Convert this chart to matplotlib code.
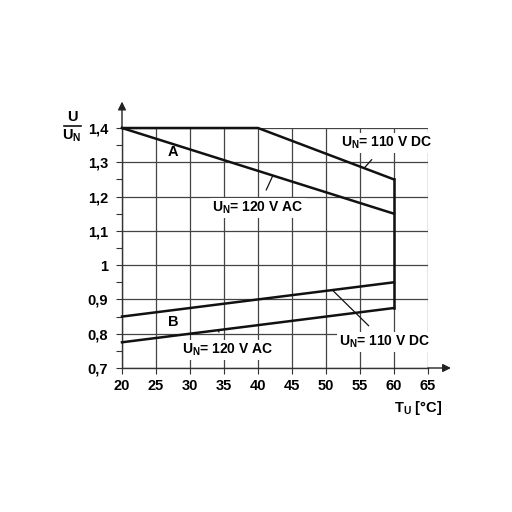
import matplotlib
matplotlib.use("Agg")
import matplotlib.pyplot as plt
import numpy as np

# curve data (T in °C, U/UN)
t_dc_upper = [20, 40, 60]
u_dc_upper = [1.4, 1.4, 1.25]
t_ac_upper = [20, 60]
u_ac_upper = [1.4, 1.15]
t_dc_lower = [20, 60]
u_dc_lower = [0.85, 0.95]
t_ac_lower = [20, 60]
u_ac_lower = [0.775, 0.875]
t_limit = [60, 60]
u_limit = [1.25, 0.875]

x_ticks = [20, 25, 30, 35, 40, 45, 50, 55, 60, 65]
y_ticks = [0.7, 0.8, 0.9, 1.0, 1.1, 1.2, 1.3, 1.4]
y_labels = ["0,7", "0,8", "0,9", "1", "1,1", "1,2", "1,3", "1,4"]

plt.rcParams['font.family'] = ['Liberation Sans', 'DejaVu Sans']
plt.rcParams['mathtext.fontset'] = 'custom'
plt.rcParams['mathtext.rm'] = 'Liberation Sans:bold'
plt.rcParams['mathtext.bf'] = 'Liberation Sans:bold'
plt.rcParams['mathtext.sf'] = 'Liberation Sans:bold'

fig = plt.figure(figsize=(5.12, 5.12), dpi=100)
ax = fig.add_axes([122/512, 1 - 368/512, 306/512, 240/512])

ax.set_xlim(20, 65)
ax.set_ylim(0.7, 1.4)
ax.set_xticks(x_ticks)
ax.set_xticklabels([str(v) for v in x_ticks], fontweight='bold', fontsize=10.5)
ax.set_yticks(y_ticks)
ax.set_yticklabels(y_labels, fontweight='bold', fontsize=10.5)
ax.set_yticks(np.arange(0.75, 1.4, 0.1), minor=True)
ax.tick_params(axis='both', which='both', length=4, width=0.8, color='#333333')
ax.tick_params(axis='x', pad=4)
ax.tick_params(axis='y', pad=6)
ax.grid(True, which='major', color='#444444', linewidth=0.9)
for s in ['top', 'right']:
    ax.spines[s].set_visible(False)
for s in ['left', 'bottom']:
    ax.spines[s].set_color('#333333')
    ax.spines[s].set_linewidth(1.0)

# axis arrows
ax.annotate('', xy=(0, 1.11), xytext=(0, 1.0), xycoords='axes fraction',
            arrowprops=dict(arrowstyle='-|>', color='#222222', lw=1.0,
                            mutation_scale=12, shrinkA=0, shrinkB=0),
            annotation_clip=False)
ax.annotate('', xy=(1.075, 0), xytext=(1.0, 0), xycoords='axes fraction',
            arrowprops=dict(arrowstyle='-|>', color='#222222', lw=1.0,
                            mutation_scale=12, shrinkA=0, shrinkB=0),
            annotation_clip=False)

lw = 1.8
ax.plot(t_dc_upper, u_dc_upper, color='#111111', lw=lw, clip_on=False, zorder=3)
ax.plot(t_ac_upper, u_ac_upper, color='#111111', lw=lw, clip_on=False, zorder=3)
ax.plot(t_dc_lower, u_dc_lower, color='#111111', lw=lw, clip_on=False, zorder=3)
ax.plot(t_ac_lower, u_ac_lower, color='#111111', lw=lw, clip_on=False, zorder=3)
ax.plot(t_limit, u_limit, color='#111111', lw=lw, clip_on=False, zorder=3)

ax.text(27.5, 1.33, "A", fontsize=10.5, fontweight='bold', ha='center', va='center')
ax.text(27.5, 0.835, "B", fontsize=10.5, fontweight='bold', ha='center', va='center')

box = dict(facecolor='white', edgecolor='none', pad=1.5)
lbl_dc = r"U$_\mathrm{N}$= 110 V DC"
lbl_ac = r"U$_\mathrm{N}$= 120 V AC"

def label(text, xy, xytext):
    ax.annotate(text, xy=xy, xytext=xytext, fontsize=10, fontweight='bold',
                ha='center', va='center', bbox=box, zorder=5,
                arrowprops=dict(arrowstyle='-', color='#111111', lw=0.9,
                                shrinkA=6, shrinkB=0),
                annotation_clip=False)

label(lbl_dc, (55.7, 1.285), (58.9, 1.356))
label(lbl_ac, (42.2, 1.262), (40.0, 1.167))
label(lbl_ac, (34.1, 0.811), (35.6, 0.753))
label(lbl_dc, (50.9, 0.928), (58.7, 0.776))

# axis titles
fig.text(72/512, 1 - 117/512, "U", fontsize=10.5, fontweight='bold', ha='center', va='center')
fig.add_artist(plt.Line2D([64/512, 81/512], [1 - 126/512, 1 - 126/512], color='#111111', lw=1.2))
fig.text(72/512, 1 - 136/512, r"U$_\mathrm{N}$", fontsize=10.5, fontweight='bold', ha='center', va='center')
fig.text(418/512, 1 - 408/512, r"T$_\mathrm{U}$ [°C]", fontsize=10.5, fontweight='bold', ha='center', va='center')

fig.savefig("out.png", dpi=100)
